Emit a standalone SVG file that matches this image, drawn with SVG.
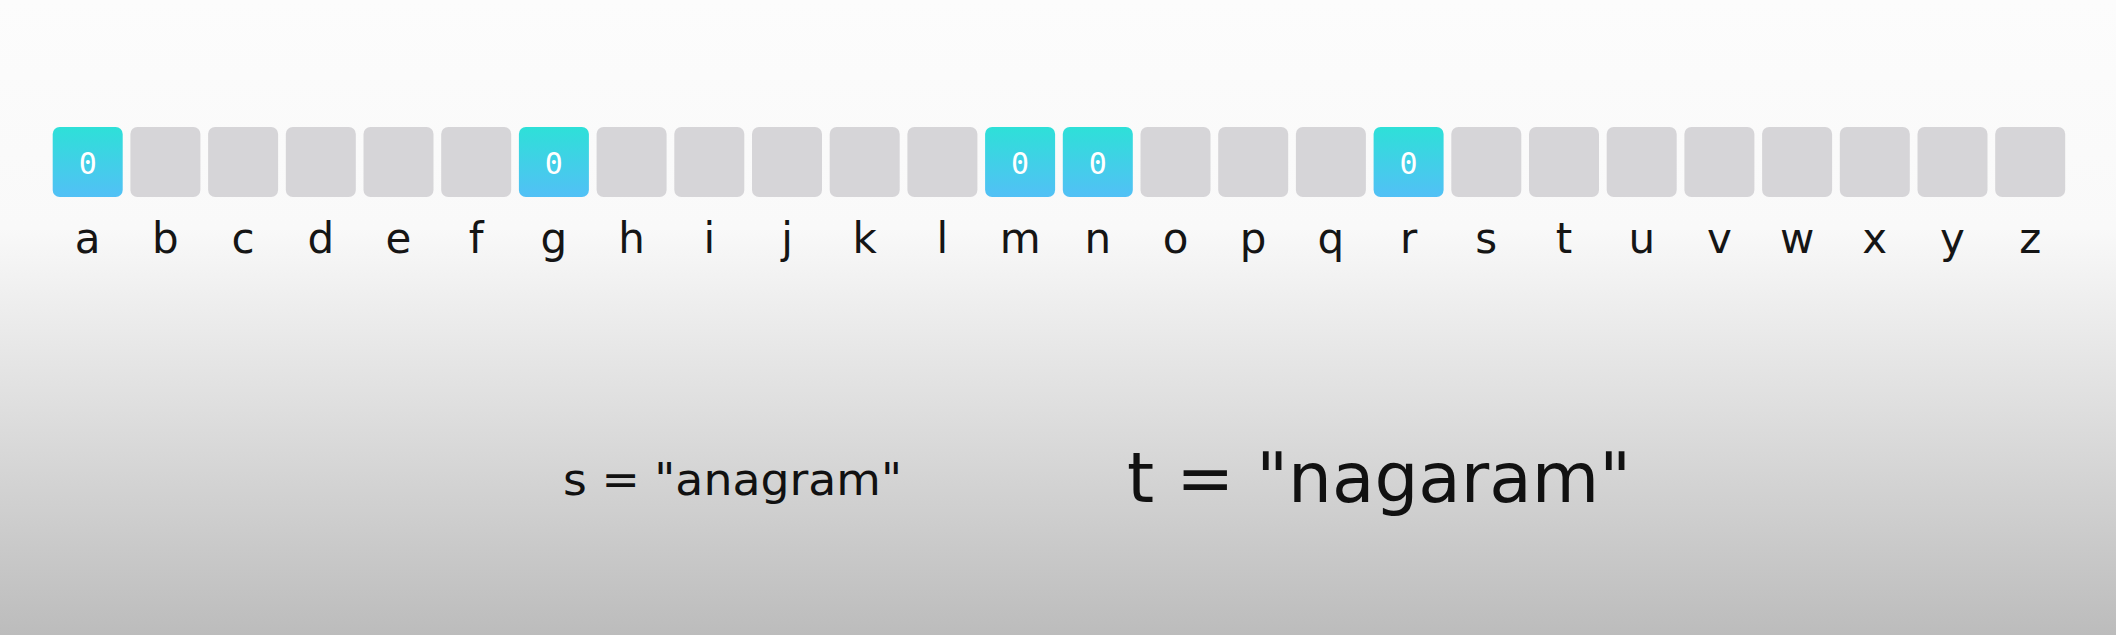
<svg xmlns="http://www.w3.org/2000/svg" width="2116" height="635" viewBox="0 0 2116 635">
<defs>
<linearGradient id="bg" x1="0" y1="0" x2="0" y2="635" gradientUnits="userSpaceOnUse">
<stop offset="0" stop-color="#fcfcfc"/>
<stop offset="0.36" stop-color="#f9f9f9"/>
<stop offset="0.7" stop-color="#d9d9d9"/>
<stop offset="1" stop-color="#bcbcbc"/>
</linearGradient>
<linearGradient id="hl" x1="0" y1="0" x2="0" y2="1">
<stop offset="0" stop-color="#2ee0d8"/>
<stop offset="1" stop-color="#52c0f6"/>
</linearGradient>
<style>
.cell{fill:#d6d5d8}
.hot{fill:url(#hl)}
.val{font-family:"DejaVu Sans Mono",monospace;font-size:30px;fill:#ffffff;text-anchor:middle}
.lbl{font-family:"DejaVu Sans",sans-serif;font-size:42px;fill:#151515;text-anchor:middle}
.eq{font-family:"DejaVu Sans",sans-serif;fill:#111111}
</style>
</defs>
<rect x="0" y="0" width="2116" height="635" fill="url(#bg)"/>
<g id="cells">
<g id="cell-a"><rect class="hot" x="52.7" y="127" width="70" height="70" rx="7"/><text class="val" x="87.7" y="174">0</text><text class="lbl" x="87.7" y="253">a</text></g>
<g id="cell-b"><rect class="cell" x="130.4" y="127" width="70" height="70" rx="7"/><text class="lbl" x="165.4" y="253">b</text></g>
<g id="cell-c"><rect class="cell" x="208.1" y="127" width="70" height="70" rx="7"/><text class="lbl" x="243.1" y="253">c</text></g>
<g id="cell-d"><rect class="cell" x="285.8" y="127" width="70" height="70" rx="7"/><text class="lbl" x="320.8" y="253">d</text></g>
<g id="cell-e"><rect class="cell" x="363.5" y="127" width="70" height="70" rx="7"/><text class="lbl" x="398.5" y="253">e</text></g>
<g id="cell-f"><rect class="cell" x="441.2" y="127" width="70" height="70" rx="7"/><text class="lbl" x="476.2" y="253">f</text></g>
<g id="cell-g"><rect class="hot" x="518.9" y="127" width="70" height="70" rx="7"/><text class="val" x="553.9" y="174">0</text><text class="lbl" x="553.9" y="253">g</text></g>
<g id="cell-h"><rect class="cell" x="596.6" y="127" width="70" height="70" rx="7"/><text class="lbl" x="631.6" y="253">h</text></g>
<g id="cell-i"><rect class="cell" x="674.3" y="127" width="70" height="70" rx="7"/><text class="lbl" x="709.3" y="253">i</text></g>
<g id="cell-j"><rect class="cell" x="752.0" y="127" width="70" height="70" rx="7"/><text class="lbl" x="787.0" y="253">j</text></g>
<g id="cell-k"><rect class="cell" x="829.7" y="127" width="70" height="70" rx="7"/><text class="lbl" x="864.7" y="253">k</text></g>
<g id="cell-l"><rect class="cell" x="907.4" y="127" width="70" height="70" rx="7"/><text class="lbl" x="942.4" y="253">l</text></g>
<g id="cell-m"><rect class="hot" x="985.1" y="127" width="70" height="70" rx="7"/><text class="val" x="1020.1" y="174">0</text><text class="lbl" x="1020.1" y="253">m</text></g>
<g id="cell-n"><rect class="hot" x="1062.8" y="127" width="70" height="70" rx="7"/><text class="val" x="1097.8" y="174">0</text><text class="lbl" x="1097.8" y="253">n</text></g>
<g id="cell-o"><rect class="cell" x="1140.5" y="127" width="70" height="70" rx="7"/><text class="lbl" x="1175.5" y="253">o</text></g>
<g id="cell-p"><rect class="cell" x="1218.2" y="127" width="70" height="70" rx="7"/><text class="lbl" x="1253.2" y="253">p</text></g>
<g id="cell-q"><rect class="cell" x="1295.9" y="127" width="70" height="70" rx="7"/><text class="lbl" x="1330.9" y="253">q</text></g>
<g id="cell-r"><rect class="hot" x="1373.6" y="127" width="70" height="70" rx="7"/><text class="val" x="1408.6" y="174">0</text><text class="lbl" x="1408.6" y="253">r</text></g>
<g id="cell-s"><rect class="cell" x="1451.3" y="127" width="70" height="70" rx="7"/><text class="lbl" x="1486.3" y="253">s</text></g>
<g id="cell-t"><rect class="cell" x="1529.0" y="127" width="70" height="70" rx="7"/><text class="lbl" x="1564.0" y="253">t</text></g>
<g id="cell-u"><rect class="cell" x="1606.7" y="127" width="70" height="70" rx="7"/><text class="lbl" x="1641.7" y="253">u</text></g>
<g id="cell-v"><rect class="cell" x="1684.4" y="127" width="70" height="70" rx="7"/><text class="lbl" x="1719.4" y="253">v</text></g>
<g id="cell-w"><rect class="cell" x="1762.1" y="127" width="70" height="70" rx="7"/><text class="lbl" x="1797.1" y="253">w</text></g>
<g id="cell-x"><rect class="cell" x="1839.8" y="127" width="70" height="70" rx="7"/><text class="lbl" x="1874.8" y="253">x</text></g>
<g id="cell-y"><rect class="cell" x="1917.5" y="127" width="70" height="70" rx="7"/><text class="lbl" x="1952.5" y="253">y</text></g>
<g id="cell-z"><rect class="cell" x="1995.2" y="127" width="70" height="70" rx="7"/><text class="lbl" x="2030.2" y="253">z</text></g>
</g>
<g id="connectors"/>
<g id="s-string"><text class="eq" x="563" y="495" font-size="44" textLength="339" lengthAdjust="spacingAndGlyphs">s = "anagram"</text></g>
<g id="t-string"><text class="eq" x="1127" y="502" font-size="70" textLength="504" lengthAdjust="spacingAndGlyphs">t = "nagaram"</text></g>
</svg>
